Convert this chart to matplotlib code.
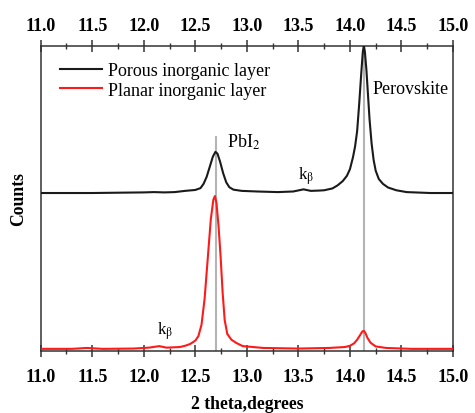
import matplotlib
matplotlib.use("Agg")
import matplotlib.pyplot as plt
from matplotlib.ticker import MultipleLocator, NullLocator

plt.rcParams['font.family'] = ['Liberation Serif', 'DejaVu Serif']
plt.rcParams['mathtext.fontset'] = 'stix'

# Porous inorganic layer (black)
porous_x = [11.00, 11.50, 12.00, 12.10, 12.20, 12.30, 12.40, 12.50, 12.55, 12.58,
            12.61, 12.64, 12.67, 12.695, 12.715, 12.74, 12.77, 12.80, 12.83, 12.87,
            12.95, 13.10, 13.30, 13.45, 13.55, 13.62, 13.70, 13.75, 13.83, 13.88,
            13.93, 13.97, 14.00, 14.03, 14.05, 14.07, 14.09, 14.11, 14.125, 14.135,
            14.145, 14.16, 14.175, 14.19, 14.21, 14.23, 14.25, 14.28, 14.32, 14.37,
            14.45, 14.55, 14.78, 15.00]
porous_y = [51.7, 51.7, 51.9, 52.0, 51.9, 52.0, 52.4, 52.7, 53.3, 54.7,
            57.0, 60.3, 63.6, 65.2, 64.6, 62.0, 58.2, 55.2, 53.6, 52.8,
            52.4, 52.2, 52.0, 52.2, 52.9, 52.4, 52.5, 52.6, 53.2, 54.2,
            55.6, 57.3, 59.5, 63.5, 67.0, 72.0, 81.0, 91.0, 98.0, 100.0,
            98.0, 92.0, 84.0, 76.0, 68.0, 62.5, 59.0, 56.3, 54.7, 53.5,
            52.6, 52.0, 51.7, 51.7]

# Planar inorganic layer (red)
planar_x = [11.00, 11.30, 11.45, 11.60, 11.90, 12.05, 12.15, 12.22, 12.35, 12.40,
            12.45, 12.50, 12.53, 12.56, 12.59, 12.62, 12.65, 12.675, 12.69, 12.705,
            12.725, 12.745, 12.765, 12.785, 12.81, 12.85, 12.90, 12.96, 13.16, 13.50,
            13.80, 13.95, 14.00, 14.04, 14.07, 14.10, 14.12, 14.135, 14.15, 14.17,
            14.20, 14.25, 14.35, 14.60, 15.00]
planar_y = [0.6, 0.6, 0.9, 0.6, 0.7, 1.0, 1.5, 1.0, 1.2, 1.6,
            2.2, 3.3, 4.8, 8.5, 17.0, 30.0, 43.0, 49.5, 50.7, 48.5,
            41.0, 31.0, 19.0, 10.0, 5.5, 3.6, 2.5, 1.5, 0.9, 0.7,
            0.9, 1.2, 1.6, 2.4, 3.6, 5.2, 6.3, 6.5, 5.8, 4.2,
            2.6, 1.4, 0.9, 0.6, 0.6]

# Reference peak positions (grey lines)
peak_pos = [12.70, 14.135]
peak_top = [70.4, 100.0]

xticks = [11.0, 11.5, 12.0, 12.5, 13.0, 13.5, 14.0, 14.5, 15.0]
xtick_labels = ['11.0', '11.5', '12.0', '12.5', '13.0', '13.5', '14.0', '14.5', '15.0']

fig = plt.figure(figsize=(4.75, 4.14), dpi=100)
ax = fig.add_axes([0.0857, 0.1505, 0.868, 0.7367])

ax.vlines(peak_pos, 0, peak_top, colors='#b4b4b4', linewidth=1.5, zorder=1)
ax.plot(porous_x, porous_y, color='#1a1a1a', linewidth=1.5, label='Porous inorganic layer', zorder=3)
ax.plot(planar_x, planar_y, color='#ff1a1a', linewidth=1.5, label='Planar inorganic layer', zorder=3)

ax.set_xlim(11.0, 15.0)
ax.set_ylim(0, 100)
ax.set_xticks(xticks)
ax.set_xticklabels(xtick_labels)
ax.xaxis.set_minor_locator(MultipleLocator(0.25))
ax.set_yticks([])

ax.tick_params(axis='x', which='major', direction='inout', length=9, width=1.1,
               top=True, labeltop=False, bottom=True, labelbottom=True,
               labelsize=13, pad=8, color='#333333')
ax.tick_params(axis='x', which='minor', direction='inout', length=4.5, width=1.0,
               top=True, bottom=True, color='#333333')
for t in ax.xaxis.get_major_ticks():
    t.label1.set_fontweight('bold')

# top tick labels
sec = ax.secondary_xaxis('top')
sec.set_xticks(xticks)
sec.set_xticklabels(xtick_labels, fontweight='bold')
sec.xaxis.set_minor_locator(NullLocator())
sec.tick_params(axis='x', which='both', length=0, labelsize=13, pad=8.5)
sec.spines['top'].set_visible(False)

for sp in ax.spines.values():
    sp.set_linewidth(1.1)
    sp.set_color('#333333')

ax.set_xlabel('2 theta,degrees', fontsize=12.7, fontweight='bold', labelpad=7)
ax.set_ylabel('Counts', fontsize=12.7, fontweight='bold', labelpad=10)

ax.legend(loc='upper left', bbox_to_anchor=(0.047, 0.947), frameon=False,
          fontsize=13, handlelength=2.33, handletextpad=0.33, borderpad=0,
          borderaxespad=0, labelspacing=0.15)

ax.text(12.81, 68.8, 'PbI$_2$', fontsize=13, ha='left', va='center')
ax.text(13.50, 57.6, 'k$_{\\mathrm{β}}$', fontsize=12, ha='left', va='center')
ax.text(12.13, 6.8, 'k$_{\\mathrm{β}}$', fontsize=12, ha='left', va='center')
ax.text(14.22, 86.0, 'Perovskite', fontsize=13, ha='left', va='center')

fig.savefig('out.png', dpi=100)
